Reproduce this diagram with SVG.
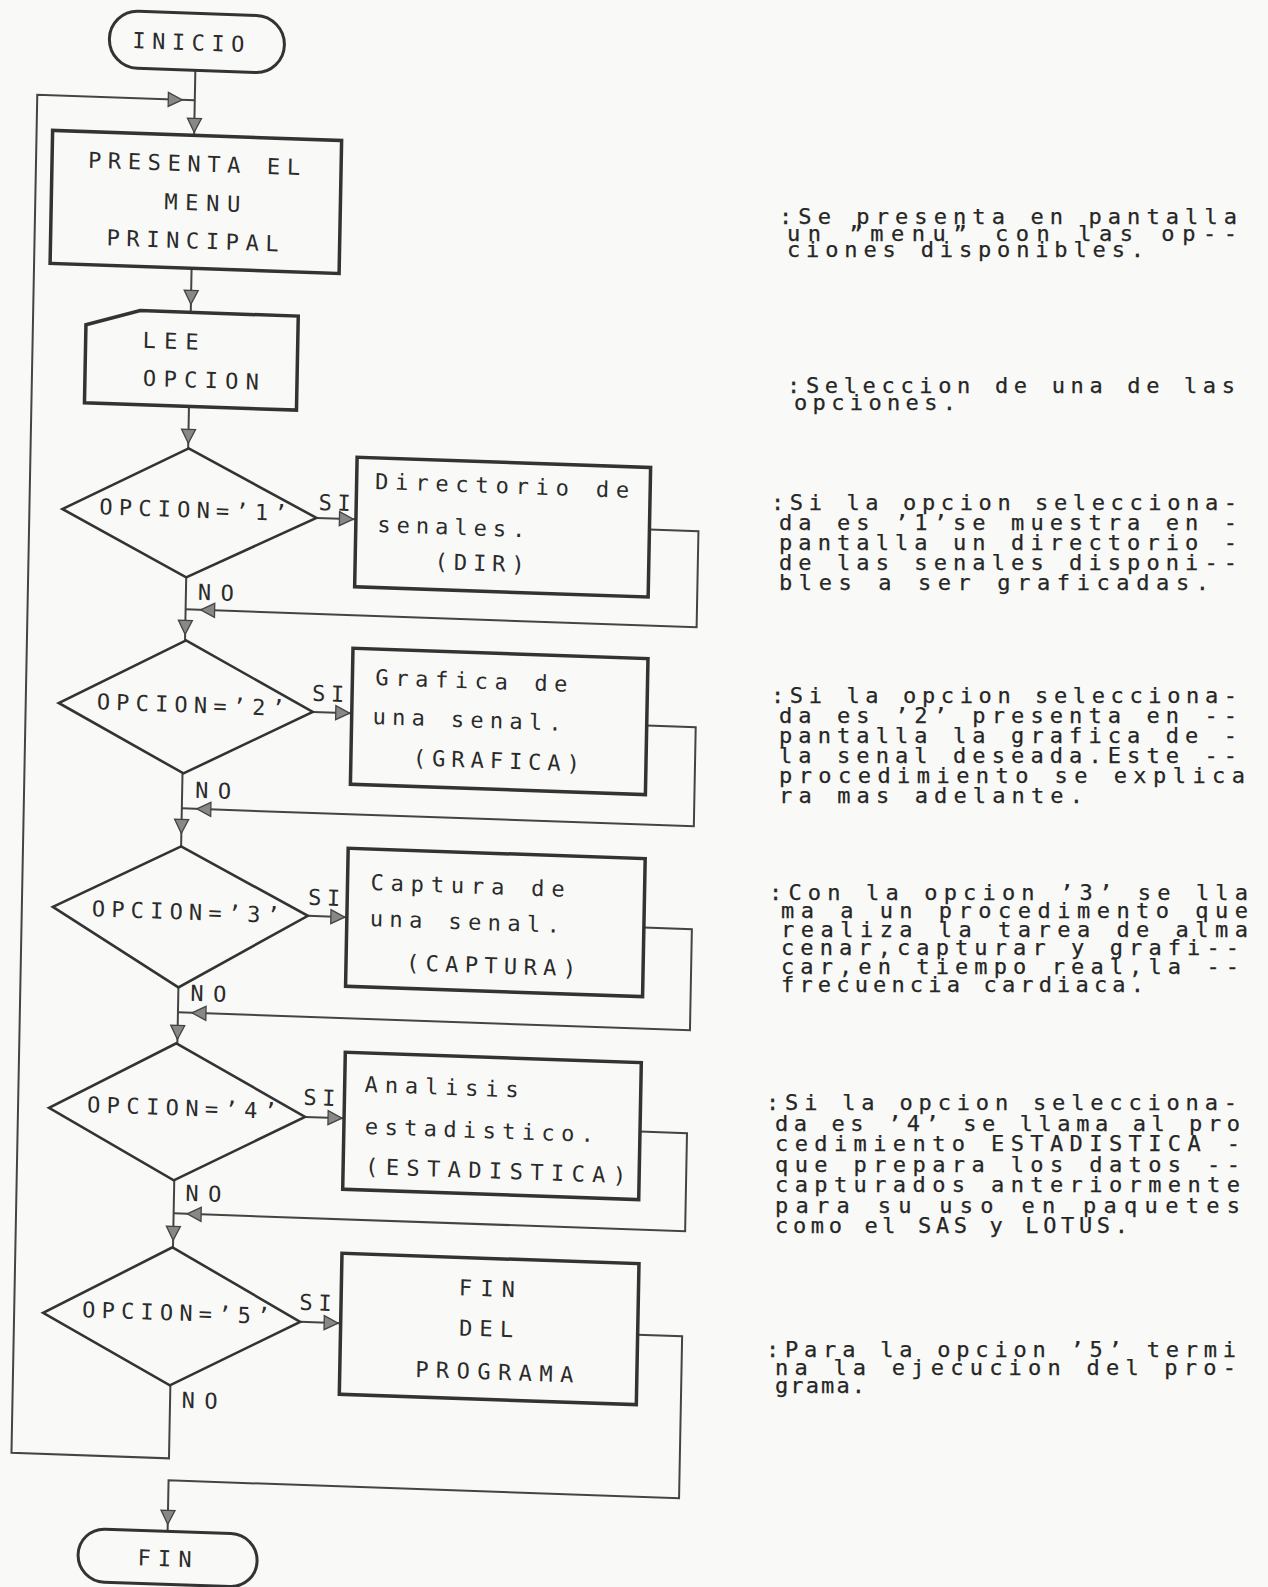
<svg xmlns="http://www.w3.org/2000/svg" xmlns:xlink="http://www.w3.org/1999/xlink" width="1268" height="1587" viewBox="0 0 1268 1587">
<style>
  .box{fill:none;stroke:#333;stroke-width:3.5}
  .dia{fill:none;stroke:#333;stroke-width:2.6}
  .term{fill:none;stroke:#333;stroke-width:3}
  .con{fill:none;stroke:#444;stroke-width:2}
  .ah{fill:#888;stroke:#444;stroke-width:1.3}
  text{font-family:"DejaVu Sans Mono","Liberation Mono",monospace;font-size:22px;fill:#2b2b2b}
  .note{fill:#262626;stroke:#262626;stroke-width:0.25}
</style>
<defs>
  <path id="ah" d="M0,0 L-7,-14 L7,-14 Z"/>
</defs>
<rect width="1268" height="1587" fill="#f9f9f7"/>
<g id="flowchart" transform="matrix(1,0.035,-0.019,1,15.2,-7)">
  <g id="connectors">
    <path class="con" d="M181.5,71 V136"/>
    <path class="con" d="M181.5,1386 V1459 H24 V101 H181.5"/>
    <path class="con" d="M181.5,269 V313"/>
    <path class="con" d="M181.5,407 V449"/>
    <path class="con" d="M182,578 V641"/>
    <path class="con" d="M182,774 V847"/>
    <path class="con" d="M182,988 V1044"/>
    <path class="con" d="M181.5,1181 V1248"/>
    <path class="con" d="M644,514 H693 V610 H182"/>
    <path class="con" d="M645,710 H694 V809 H182"/>
    <path class="con" d="M646,912 H694 V1013 H182"/>
    <path class="con" d="M646,1116 H693 V1214 H181.5"/>
    <path class="con" d="M647,1319 H692 V1481 H181.5 V1532"/>
    <path class="con" d="M311,514 H350"/>
    <path class="con" d="M311,708 H350"/>
    <path class="con" d="M310,912 H349"/>
    <path class="con" d="M311,1113 H350"/>
    <path class="con" d="M310,1318 H350"/>
    <use xlink:href="#ah" class="ah" transform="translate(181.5,133)"/>
    <use xlink:href="#ah" class="ah" transform="translate(169,101) rotate(-90)"/>
    <use xlink:href="#ah" class="ah" transform="translate(181.5,305)"/>
    <use xlink:href="#ah" class="ah" transform="translate(181.5,444)"/>
    <use xlink:href="#ah" class="ah" transform="translate(182,635)"/>
    <use xlink:href="#ah" class="ah" transform="translate(182,834)"/>
    <use xlink:href="#ah" class="ah" transform="translate(182,1040)"/>
    <use xlink:href="#ah" class="ah" transform="translate(181.5,1241)"/>
    <use xlink:href="#ah" class="ah" transform="translate(181.5,1525)"/>
    <use xlink:href="#ah" class="ah" transform="translate(197,610) rotate(90)"/>
    <use xlink:href="#ah" class="ah" transform="translate(197,809) rotate(90)"/>
    <use xlink:href="#ah" class="ah" transform="translate(196,1013) rotate(90)"/>
    <use xlink:href="#ah" class="ah" transform="translate(195,1214) rotate(90)"/>
    <use xlink:href="#ah" class="ah" transform="translate(348,514) rotate(-90)"/>
    <use xlink:href="#ah" class="ah" transform="translate(348,708) rotate(-90)"/>
    <use xlink:href="#ah" class="ah" transform="translate(347,912) rotate(-90)"/>
    <use xlink:href="#ah" class="ah" transform="translate(348,1113) rotate(-90)"/>
    <use xlink:href="#ah" class="ah" transform="translate(348,1318) rotate(-90)"/>
    <text x="313" y="506" textLength="32">SI</text>
    <text x="310" y="697" textLength="32">SI</text>
    <text x="310" y="901" textLength="32">SI</text>
    <text x="309" y="1101" textLength="32">SI</text>
    <text x="309" y="1306" textLength="32">SI</text>
    <text x="194" y="600" textLength="36">NO</text>
    <text x="195" y="798" textLength="36">NO</text>
    <text x="194" y="1001" textLength="36">NO</text>
    <text x="193" y="1201" textLength="36">NO</text>
    <text x="193" y="1408" textLength="36">NO</text>
  </g>
  <g id="n-inicio">
    <rect class="term" x="95" y="14" width="175" height="57" rx="28.5"/>
    <text x="118" y="51" textLength="112">INICIO</text>
  </g>
  <g id="n-menu">
    <rect class="box" x="40" y="136" width="289" height="133"/>
    <text><tspan x="76" y="172" textLength="212">PRESENTA EL</tspan><tspan x="153" y="211" textLength="76">MENU</tspan><tspan x="96" y="249" textLength="172">PRINCIPAL</tspan></text>
  </g>
  <g id="n-lee">
    <polygon class="box" points="77,329 131,313 289,313 289,407 77,407"/>
    <text><tspan x="134" y="350" textLength="56">LEE</tspan><tspan x="135" y="388" textLength="116">OPCION</tspan></text>
  </g>
  <g id="n-op1">
    <polygon class="dia" points="182,449 311,514 182,578 57,514"/>
    <text x="188" y="518" text-anchor="middle" textLength="188">OPCION=’1’</text>
  </g>
  <g id="n-dir">
    <rect class="box" x="350.5" y="452" width="293.5" height="129.5"/>
    <text><tspan x="369" y="483" textLength="254">Directorio de</tspan><tspan x="372" y="526" textLength="148">senales.</tspan><tspan x="430" y="561" textLength="90">(DIR)</tspan></text>
  </g>
  <g id="n-op2">
    <polygon class="dia" points="183,641 311,708 183,774 57,708"/>
    <text x="189" y="713" text-anchor="middle" textLength="188">OPCION=’2’</text>
  </g>
  <g id="n-graf">
    <rect class="box" x="350" y="643" width="295" height="136"/>
    <text><tspan x="373" y="679" textLength="192">Grafica de</tspan><tspan x="371" y="718" textLength="189">una senal.</tspan><tspan x="412" y="758" textLength="167">(GRAFICA)</tspan></text>
  </g>
  <g id="n-op3">
    <polygon class="dia" points="182,847 310,912 182,988 55,912"/>
    <text x="188" y="920" text-anchor="middle" textLength="188">OPCION=’3’</text>
  </g>
  <g id="n-capt">
    <rect class="box" x="349" y="843" width="297" height="138"/>
    <text><tspan x="372" y="884" textLength="194">Captura de</tspan><tspan x="372" y="920" textLength="190">una senal.</tspan><tspan x="409" y="963" textLength="170">(CAPTURA)</tspan></text>
  </g>
  <g id="n-op4">
    <polygon class="dia" points="181,1044 311,1113 181,1181 55,1113"/>
    <text x="188" y="1116" text-anchor="middle" textLength="190">OPCION=’4’</text>
  </g>
  <g id="n-est">
    <rect class="box" x="350" y="1047" width="296" height="137"/>
    <text><tspan x="370" y="1086" textLength="154">Analisis</tspan><tspan x="371" y="1128" textLength="229">estadistico.</tspan><tspan x="372" y="1168" textLength="261">(ESTADISTICA)</tspan></text>
  </g>
  <g id="n-op5">
    <polygon class="dia" points="181,1248 310,1318 181,1386 53,1318"/>
    <text x="186" y="1321" text-anchor="middle" textLength="188">OPCION=’5’</text>
  </g>
  <g id="n-finprog">
    <rect class="box" x="350.5" y="1248" width="297" height="141"/>
    <text text-anchor="middle"><tspan x="496" y="1286" textLength="56">FIN</tspan><tspan x="496" y="1326" textLength="54">DEL</tspan><tspan x="505" y="1369" textLength="158">PROGRAMA</tspan></text>
  </g>
  <g id="n-fin">
    <rect class="term" x="92.5" y="1532" width="179" height="53" rx="26.5"/>
    <text x="152" y="1567" textLength="54">FIN</text>
  </g>
</g>
<g id="notes">
  <text id="note1" class="note"><tspan x="779" y="224" textLength="458">:Se presenta en pantalla</tspan><tspan x="787" y="240.5" textLength="450">un ”menu” con las op--</tspan><tspan x="787" y="257" textLength="357">ciones disponibles.</tspan></text>
  <text id="note2" class="note"><tspan x="787" y="393" textLength="448">:Seleccion de una de las</tspan><tspan x="794" y="409.5" textLength="162">opciones.</tspan></text>
  <text id="note3" class="note"><tspan x="771" y="510" textLength="466">:Si la opcion selecciona-</tspan><tspan x="779" y="530" textLength="458">da es ’1’se muestra en -</tspan><tspan x="779" y="550" textLength="458">pantalla un directorio -</tspan><tspan x="779" y="570" textLength="458">de las senales disponi--</tspan><tspan x="779" y="590" textLength="430">bles a ser graficadas.</tspan></text>
  <text id="note4" class="note"><tspan x="771" y="703" textLength="466">:Si la opcion selecciona-</tspan><tspan x="779" y="723" textLength="458">da es ’2’ presenta en --</tspan><tspan x="779" y="743" textLength="458">pantalla la grafica de -</tspan><tspan x="779" y="763" textLength="458">la senal deseada.Este --</tspan><tspan x="779" y="783" textLength="466">procedimiento se explica</tspan><tspan x="779" y="803" textLength="304">ra mas adelante.</tspan></text>
  <text id="note5" class="note"><tspan x="769" y="900" textLength="479">:Con la opcion ’3’ se lla</tspan><tspan x="781" y="918.4" textLength="467">ma a un procedimento que</tspan><tspan x="781" y="936.8" textLength="467">realiza la tarea de alma</tspan><tspan x="781" y="955.2" textLength="458">cenar,capturar y grafi--</tspan><tspan x="781" y="973.6" textLength="458">car,en tiempo real,la --</tspan><tspan x="781" y="992" textLength="363">frecuencia cardiaca.</tspan></text>
  <text id="note6" class="note"><tspan x="766" y="1110" textLength="471">:Si la opcion selecciona-</tspan><tspan x="775" y="1130.5" textLength="465">da es ’4’ se llama al pro</tspan><tspan x="775" y="1151" textLength="465">cedimiento ESTADISTICA -</tspan><tspan x="775" y="1171.5" textLength="465">que prepara los datos --</tspan><tspan x="775" y="1192" textLength="465">capturados anteriormente</tspan><tspan x="775" y="1212.5" textLength="465">para su uso en paquetes</tspan><tspan x="775" y="1233" textLength="353">como el SAS y LOTUS.</tspan></text>
  <text id="note7" class="note"><tspan x="766" y="1357" textLength="470">:Para la opcion ’5’ termi</tspan><tspan x="775" y="1375" textLength="461">na la ejecucion del pro-</tspan><tspan x="775" y="1393" textLength="90">grama.</tspan></text>
</g>
</svg>
